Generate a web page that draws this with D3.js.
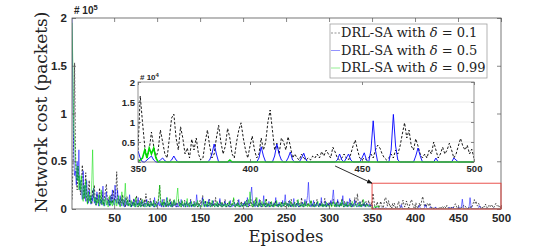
<!DOCTYPE html>
<html>
<head>
<meta charset="utf-8">
<script src="https://cdn.jsdelivr.net/npm/d3@7"></script>
<style>
  body { margin: 0; background: #fff; }
  .tick text { font-family: "Liberation Sans", Arial, sans-serif; font-weight: bold; fill: #262626; }
</style>
</head>
<body>
<script>
// network cost per episode, in thousands of packets (episodes 1..500)
const costDelta01 = [
  10, 40, 80, 153, 60, 35, 20, 45, 30, 25,
  15, 28, 46, 30, 10, 22, 38, 12, 6, 18,
  30, 8, 14, 5, 20, 12, 25, 8, 4, 16,
  10, 6, 22, 12, 5, 18, 9, 4, 14, 20,
  26, 10, 6, 12, 4, 9, 15, 6, 20, 12,
  8, 18, 39, 14, 5, 10, 3, 12, 6, 15,
  4, 9, 2, 7, 13, 5, 3, 10, 6, 2,
  8, 4, 11, 3, 6, 14, 5, 2, 9, 4,
  12, 3, 7, 2, 10, 5, 16, 6, 3, 8,
  2, 11, 4, 6, 3, 9, 2, 5, 8, 3,
  6, 12, 25, 8, 3, 7, 2, 10, 4, 6,
  2, 8, 3, 5, 11, 3, 6, 2, 9, 4,
  3, 7, 2, 5, 10, 3, 6, 2, 8, 4,
  3, 9, 2, 5, 7, 3, 2, 6, 10, 3,
  5, 2, 8, 4, 3, 7, 2, 6, 4, 9,
  5, 8, 14, 6, 3, 9, 4, 2, 7, 3,
  10, 4, 6, 2, 8, 3, 5, 12, 4, 2,
  6, 3, 9, 4, 2, 7, 3, 5, 10, 4,
  2, 6, 3, 8, 2, 5, 3, 7, 11, 4,
  2, 6, 3, 9, 4, 2, 5, 8, 3, 6,
  4, 7, 3, 9, 5, 2, 6, 3, 10, 4,
  2, 8, 3, 5, 12, 4, 2, 6, 3, 9,
  2, 5, 3, 7, 4, 2, 11, 3, 6, 2,
  4, 8, 3, 5, 2, 7, 3, 9, 4, 2,
  6, 3, 5, 2, 8, 4, 3, 6, 2, 7,
  5, 3, 8, 4, 2, 10, 3, 6, 2, 7,
  4, 3, 9, 5, 2, 6, 3, 12, 4, 2,
  7, 3, 5, 8, 3, 6, 2, 4, 9, 3,
  5, 2, 7, 4, 3, 10, 4, 2, 6, 3,
  8, 2, 5, 3, 11, 4, 2, 6, 3, 7,
  4, 8, 3, 6, 10, 4, 2, 7, 3, 9,
  5, 2, 6, 3, 11, 4, 2, 8, 3, 5,
  2, 7, 4, 3, 9, 2, 5, 3, 6, 12,
  4, 8, 16, 6, 3, 7, 2, 5, 10, 3,
  6, 2, 8, 4, 3, 9, 5, 2, 7, 3,
  16.5, 10, 4, 1, 3, 7.5, 4, 1, 3, 8,
  5, 2, 1, 6, 11, 12, 6, 3, 8.8, 6,
  2, 3.5, 1, 5.7, 3, 6, 2, 0.5, 1, 5,
  8, 4, 1, 2, 6, 9.2, 5, 2, 4, 8.4,
  6, 2, 1, 5, 8, 9.8, 6, 3, 1, 4,
  6.5, 3, 1, 2, 6, 3, 5, 10, 13, 8,
  3, 4.7, 2, 6, 5, 3, 6.3, 4, 1, 2,
  1, 0.5, 2, 1, 0.5, 1, 0.5, 1.5, 1, 2,
  1, 2.6, 1.5, 3, 2, 1, 3.7, 2.5, 1, 0.5,
  1, 2, 1, 0.5, 2, 4, 5.5, 3, 1, 0.5,
  1, 0.5, 1, 2, 1, 3, 4.2, 3.5, 2, 1,
  0.5, 1, 2, 1, 3, 2, 4, 7, 9.8, 6,
  8, 4, 3, 5.8, 4, 2, 1, 2, 1, 3,
  2, 5, 3, 1, 2, 3.7, 2, 3, 4.7, 3,
  1, 2, 4, 5.9, 4, 3, 4.2, 2, 3.2, 1
];
const costDelta05 = [
  200, 120, 60, 35, 40, 25, 50, 30, 62, 20,
  30, 18, 10, 40, 12, 25, 8, 30, 15, 6,
  20, 10, 5, 14, 8, 22, 6, 12, 4, 18,
  9, 3, 15, 6, 10, 4, 24, 8, 3, 12,
  18, 6, 4, 10, 3, 14, 6, 20, 8, 4,
  25, 12, 6, 20, 8, 4, 14, 6, 3, 10,
  5, 2, 12, 4, 8, 3, 6, 15, 4, 2,
  7, 3, 10, 5, 2, 8, 4, 12, 3, 6,
  2, 9, 4, 3, 7, 2, 5, 10, 3, 6,
  2, 4, 8, 3, 5, 2, 12, 4, 2, 6,
  4, 8, 3, 6, 2, 10, 4, 2, 7, 3,
  12, 4, 2, 6, 3, 8, 2, 5, 3, 9,
  4, 2, 6, 3, 2, 7, 4, 10, 3, 5,
  2, 6, 3, 8, 2, 4, 6, 3, 9, 2,
  5, 3, 7, 2, 4, 15, 6, 3, 5, 2,
  3, 6, 12, 4, 2, 8, 3, 5, 2, 10,
  4, 2, 6, 3, 9, 4, 2, 5, 3, 7,
  2, 4, 11, 3, 6, 2, 5, 3, 8, 2,
  4, 6, 3, 2, 9, 4, 2, 5, 3, 7,
  2, 4, 6, 3, 10, 4, 2, 5, 3, 6,
  3, 8, 4, 2, 12, 5, 3, 7, 16, 23,
  8, 3, 6, 2, 9, 4, 2, 5, 10, 3,
  6, 2, 4, 14, 3, 6, 2, 5, 3, 8,
  2, 4, 7, 3, 2, 6, 4, 12, 3, 5,
  2, 7, 3, 4, 2, 9, 3, 6, 15, 5,
  3, 6, 2, 9, 4, 2, 5, 3, 11, 4,
  2, 6, 3, 8, 2, 4, 5, 3, 7, 2,
  4, 10, 3, 8, 14, 28, 10, 4, 2, 6,
  3, 9, 2, 5, 3, 7, 4, 2, 6, 3,
  12, 4, 2, 5, 3, 8, 2, 4, 6, 3,
  5, 9, 4, 12, 20, 8, 3, 6, 2, 10,
  4, 2, 7, 3, 5, 14, 4, 2, 6, 3,
  8, 2, 4, 11, 3, 6, 2, 5, 3, 9,
  4, 2, 6, 3, 2, 8, 4, 2, 5, 3,
  7, 2, 4, 6, 3, 2, 5, 3, 4, 2.8,
  1, 0, 0, 0.5, 1, 1.5, 0.5, 0, 0, 0.5,
  1, 0.3, 0, 0, 0.5, 1.5, 0.5, 0, 0, 0,
  0, 0, 0, 0, 0, 0, 0, 0, 0, 0,
  0, 0.5, 2, 4.5, 2, 0, 0, 0, 0, 0,
  0, 0, 0, 0, 0, 0, 0, 0, 0, 0,
  0, 0, 0, 1, 3.8, 1.5, 0, 0, 0, 0,
  1.5, 4.5, 2, 0.5, 0, 0, 1, 2.5, 0.5, 0,
  0, 0, 1, 2.2, 0.5, 0, 0, 0, 0, 0,
  0, 0, 0, 0, 0, 0, 0, 0, 0.5, 2,
  0.5, 0, 1, 2, 0.5, 0, 0, 0, 0, 1,
  2.3, 0.5, 0, 3, 10.3, 3, 0, 0, 0, 0,
  0, 0, 3, 11.9, 4, 0.5, 0, 0, 0, 0,
  0, 0, 0, 1.5, 3.5, 1.5, 0, 0, 0, 0,
  0, 0, 1, 0, 0, 0, 0, 0, 0, 0,
  1, 0.5, 0, 0, 0, 0, 0, 0, 0, 0
];
const costDelta099 = [
  195, 150, 85, 70, 50, 40, 30, 45, 20, 35,
  20, 35, 15, 8, 25, 12, 30, 10, 5, 18,
  8, 14, 6, 30, 62, 20, 8, 12, 4, 10,
  6, 15, 3, 8, 20, 5, 10, 3, 7, 12,
  4, 9, 2, 6, 14, 4, 8, 3, 10, 5,
  4, 10, 3, 7, 14, 5, 2, 8, 18, 6,
  3, 12, 27, 8, 4, 10, 3, 6, 2, 9,
  5, 3, 7, 2, 12, 4, 2, 6, 3, 8,
  2, 5, 10, 3, 2, 6, 4, 2, 8, 3,
  5, 2, 7, 3, 4, 9, 2, 5, 3, 6,
  8, 14, 25, 10, 4, 7, 3, 9, 5, 2,
  6, 12, 3, 7, 4, 2, 8, 3, 5, 10,
  4, 6, 14, 22, 8, 3, 6, 2, 9, 4,
  3, 7, 2, 5, 11, 3, 6, 2, 4, 8,
  3, 5, 2, 7, 3, 4, 9, 2, 5, 3,
  4, 2, 6, 10, 3, 5, 2, 8, 4, 3,
  7, 2, 5, 9, 3, 4, 2, 6, 3, 8,
  2, 4, 5, 3, 7, 2, 4, 3, 6, 2,
  5, 3, 4, 8, 2, 3, 6, 4, 12, 3,
  2, 5, 3, 7, 2, 4, 3, 6, 2, 4,
  5, 3, 8, 4, 2, 10, 6, 18, 7, 3,
  5, 2, 9, 4, 3, 12, 5, 2, 7, 3,
  4, 8, 2, 5, 3, 10, 4, 2, 6, 3,
  5, 2, 8, 3, 4, 2, 6, 3, 9, 4,
  2, 5, 3, 7, 2, 4, 6, 3, 8, 4,
  3, 6, 2, 4, 8, 3, 5, 2, 4, 7,
  3, 2, 5, 10, 3, 4, 2, 6, 3, 5,
  2, 8, 3, 4, 2, 6, 3, 5, 9, 3,
  2, 4, 6, 2, 3, 5, 8, 3, 2, 4,
  3, 6, 2, 5, 3, 2, 7, 3, 4, 2,
  3, 6, 2, 4, 8, 3, 5, 2, 7, 3,
  4, 2, 6, 3, 9, 4, 2, 5, 3, 7,
  2, 4, 3, 6, 2, 5, 8, 3, 2, 4,
  6, 3, 2, 5, 3, 7, 2, 4, 3, 10,
  6, 3, 2, 5, 3, 4, 2, 3, 2, 0,
  0.5, 1, 3, 1, 3.5, 2, 3.5, 1, 0, 0,
  0, 0, 0, 0, 0, 0, 0, 0, 0, 0,
  0, 0, 0, 0, 0, 0, 0, 0, 0, 0,
  0, 0, 0, 0, 0, 0, 0, 0, 0, 0,
  0.5, 0, 0, 0, 0, 0, 0, 0, 0, 0,
  0, 0, 0, 0, 0, 0, 0, 0, 0, 0,
  0, 0, 0, 0, 0, 0, 0, 0, 0, 0,
  0, 0, 0, 0, 0, 0, 0, 0, 0, 0,
  0, 0, 0, 0, 0, 0, 0, 0, 0, 0,
  0, 0, 0, 0, 0, 0, 0, 0, 0, 0,
  0, 0, 0, 0, 0, 0, 0, 0, 0, 0,
  0, 0, 0, 0, 0, 0, 0, 0, 0, 0,
  0, 0, 0, 0, 0, 0, 0, 0, 0, 0,
  0, 0, 0, 0, 0, 0, 0, 0, 0, 0,
  0, 0, 0, 0, 0, 0, 0, 0, 0, 0
];

const seriesLabels = ["0.1", "0.5", "0.99"];
const seriesColors = ["#000000", "#0000ff", "#00dd00"];
const xTicks = [50, 100, 150, 200, 250, 300, 350, 400, 450, 500];
const yTicks = [0, 0.5e5, 1e5, 1.5e5, 2e5];
const insetXTicks = [350, 400, 450, 500];
const insetYTicks = [0, 0.5e4, 1e4, 1.5e4, 2e4];
const zoomWindow = [350, 500, 0, 27000]; // red box: episodes, cost
const arrowFrom = [438, -1000];           // in inset coords

const series = [costDelta01, costDelta05, costDelta099].map((vals, k) => ({
  label: seriesLabels[k],
  color: seriesColors[k],
  values: vals.map((v, i) => ({ ep: i + 1, cost: v * 1000 }))
}));

const svg = d3.select("body").append("svg").attr("width", 554).attr("height", 249);

const x = d3.scaleLinear().domain([1, 500]).range([72, 501]);
const y = d3.scaleLinear().domain([0, 2e5]).range([209, 18]);

svg.append("clipPath").attr("id", "mainclip").append("rect")
  .attr("x", x(1)).attr("y", y(2e5) - 1).attr("width", x(500) - x(1)).attr("height", y(0) - y(2e5) + 1);

const mainLine = d3.line().x(d => x(d.ep)).y(d => y(d.cost));
const gMain = svg.append("g").attr("clip-path", "url(#mainclip)");
series.forEach((s, k) => {
  gMain.append("path")
    .attr("d", mainLine(s.values))
    .attr("fill", "none")
    .attr("stroke", s.color)
    .attr("stroke-width", k === 0 ? 0.8 : 0.7)
    .attr("stroke-dasharray", k === 0 ? "2,1.5" : null)
    .attr("opacity", k === 0 ? 0.85 : 0.75);
});

// axes (ticks inside, MATLAB box)
const axisColor = "#555";
const gx = svg.append("g").attr("transform", `translate(0,${y(0)})`)
  .call(d3.axisBottom(x).tickValues(xTicks).tickSizeInner(-4).tickSizeOuter(0).tickPadding(5));
gx.selectAll("text").style("font-size", "11.5px");
svg.append("g").attr("transform", `translate(0,${y(2e5)})`)
  .call(d3.axisTop(x).tickValues(xTicks).tickSizeInner(-4).tickSizeOuter(0).tickFormat(""));
const gy = svg.append("g").attr("transform", `translate(${x(1)},0)`)
  .call(d3.axisLeft(y).tickValues(yTicks).tickSizeInner(-4).tickSizeOuter(0).tickPadding(5)
    .tickFormat(d => d3.format("")(d / 1e5)));
gy.selectAll("text").style("font-size", "11.5px");
svg.append("g").attr("transform", `translate(${x(500)},0)`)
  .call(d3.axisRight(y).tickValues(yTicks).tickSizeInner(-4).tickSizeOuter(0).tickFormat(""));
svg.selectAll(".domain").remove();
svg.selectAll(".tick line").attr("stroke", axisColor).attr("stroke-width", 0.7);

svg.append("rect")
  .attr("x", x(1)).attr("y", y(2e5)).attr("width", x(500) - x(1)).attr("height", y(0) - y(2e5))
  .attr("fill", "none").attr("stroke", axisColor).attr("stroke-width", 0.8);

const expMain = svg.append("text").attr("x", x(1) + 2).attr("y", y(2e5) - 4)
  .style("font-family", "Liberation Sans, Arial, sans-serif").style("font-weight", "bold")
  .style("font-size", "10px").attr("fill", "#262626").text("# 10");
expMain.append("tspan").attr("dy", -4).style("font-size", "7.5px").text("5");

// red zoom window on main plot
svg.append("rect")
  .attr("x", x(zoomWindow[0])).attr("y", y(zoomWindow[3]))
  .attr("width", x(zoomWindow[1]) - x(zoomWindow[0]))
  .attr("height", y(zoomWindow[2]) - y(zoomWindow[3]))
  .attr("fill", "none").attr("stroke", "#e8413c").attr("stroke-width", 0.9);

// inset
const xi = d3.scaleLinear().domain([350, 500]).range([138, 474]);
const yi = d3.scaleLinear().domain([0, 2e4]).range([162, 82]);
const gIn = svg.append("g");
gIn.append("rect").attr("x", xi(350)).attr("y", yi(2e4))
  .attr("width", xi(500) - xi(350)).attr("height", yi(0) - yi(2e4)).attr("fill", "#fff");
gIn.selectAll(".grid").data(insetYTicks.slice(1, -1)).enter().append("line")
  .attr("x1", xi(350)).attr("x2", xi(500)).attr("y1", d => yi(d)).attr("y2", d => yi(d))
  .attr("stroke", "#e6e6e6").attr("stroke-width", 0.8);

svg.append("clipPath").attr("id", "insetclip").append("rect")
  .attr("x", xi(350)).attr("y", yi(2e4)).attr("width", xi(500) - xi(350)).attr("height", yi(0) - yi(2e4) + 1);
const insetLine = d3.line().x(d => xi(d.ep)).y(d => yi(d.cost));
const gInData = gIn.append("g").attr("clip-path", "url(#insetclip)");
series.forEach((s, k) => {
  gInData.append("path")
    .attr("d", insetLine(s.values.filter(d => d.ep >= 350)))
    .attr("fill", "none")
    .attr("stroke", s.color)
    .attr("stroke-width", k === 2 ? 1.6 : 0.9)
    .attr("stroke-dasharray", k === 0 ? "2.5,1.8" : null);
});

const gxi = gIn.append("g").attr("transform", `translate(0,${yi(0)})`)
  .call(d3.axisBottom(xi).tickValues(insetXTicks).tickSizeInner(-3).tickSizeOuter(0).tickPadding(3));
gxi.selectAll("text").style("font-size", "9.5px");
gIn.append("g").attr("transform", `translate(0,${yi(2e4)})`)
  .call(d3.axisTop(xi).tickValues(insetXTicks).tickSizeInner(-3).tickSizeOuter(0).tickFormat(""));
const gyi = gIn.append("g").attr("transform", `translate(${xi(350)},0)`)
  .call(d3.axisLeft(yi).tickValues(insetYTicks).tickSizeInner(-3).tickSizeOuter(0).tickPadding(3)
    .tickFormat(d => d3.format("")(d / 1e4)));
gyi.selectAll("text").style("font-size", "9.5px");
// the inset "0" sits just above the "350" label
gyi.selectAll(".tick").filter(d => d === 0).select("text").attr("dy", "-0.25em");
gIn.append("g").attr("transform", `translate(${xi(500)},0)`)
  .call(d3.axisRight(yi).tickValues(insetYTicks).tickSizeInner(-3).tickSizeOuter(0).tickFormat(""));
gIn.selectAll(".domain").remove();
gIn.selectAll(".tick line").attr("stroke", axisColor).attr("stroke-width", 0.7);
gIn.append("rect").attr("x", xi(350)).attr("y", yi(2e4))
  .attr("width", xi(500) - xi(350)).attr("height", yi(0) - yi(2e4))
  .attr("fill", "none").attr("stroke", "#777").attr("stroke-width", 0.8);

const expIn = gIn.append("text").attr("x", xi(350) + 2).attr("y", yi(2e4) - 2)
  .style("font-family", "Liberation Sans, Arial, sans-serif").style("font-weight", "bold")
  .style("font-size", "8px").attr("fill", "#262626").text("# 10");
expIn.append("tspan").attr("dy", -3).style("font-size", "6px").text("4");

// arrow from inset to red window
const defs = svg.append("defs");
defs.append("marker").attr("id", "arrowhead").attr("viewBox", "0 0 10 10")
  .attr("refX", 9).attr("refY", 5).attr("markerWidth", 6).attr("markerHeight", 6).attr("orient", "auto")
  .append("path").attr("d", "M0,1 L10,5 L0,9 Z").attr("fill", "#111");
svg.append("line")
  .attr("x1", xi(arrowFrom[0])).attr("y1", yi(arrowFrom[1]))
  .attr("x2", x(zoomWindow[0])).attr("y2", y(zoomWindow[3]))
  .attr("stroke", "#111").attr("stroke-width", 0.9).attr("marker-end", "url(#arrowhead)");

// legend
const lg = svg.append("g").attr("transform", "translate(330,24)");
lg.append("rect").attr("width", 157).attr("height", 54).attr("fill", "#fff")
  .attr("stroke", "#a0a0a0").attr("stroke-width", 0.8);
series.forEach((s, k) => {
  const row = lg.append("g").attr("transform", `translate(0,${13 + k * 17.5})`);
  row.append("line").attr("x1", 1).attr("x2", 10).attr("y1", -4).attr("y2", -4)
    .attr("stroke", s.color).attr("stroke-width", 0.7).attr("opacity", 0.6)
    .attr("stroke-dasharray", k === 0 ? "2,1.5" : null);
  const t = row.append("text").attr("x", 11).attr("y", 0)
    .style("font-family", "DejaVu Serif, serif").style("font-size", "13px").attr("fill", "#222")
    .text("DRL-SA with ");
  t.append("tspan").style("font-style", "italic").text("δ");
  t.append("tspan").text(" = " + s.label);
});

// axis titles
svg.append("text").attr("x", 286).attr("y", 242).attr("text-anchor", "middle")
  .style("font-family", "DejaVu Serif, serif").style("font-size", "16.5px").attr("fill", "#222")
  .text("Episodes");
svg.append("text").attr("transform", "translate(47,112) rotate(-90)").attr("text-anchor", "middle")
  .style("font-family", "DejaVu Serif, serif").style("font-size", "17px").attr("fill", "#222")
  .text("Network cost (packets)");
</script>
</body>
</html>
